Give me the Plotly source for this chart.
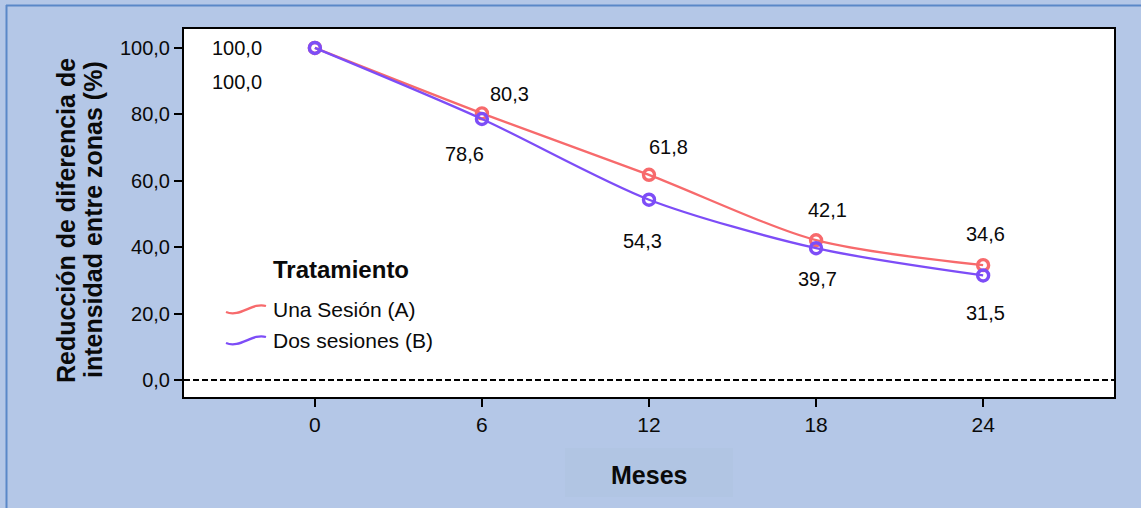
import plotly.graph_objects as go

meses = [0, 6, 12, 18, 24]
una_sesion = [100.0, 80.3, 61.8, 42.1, 34.6]
dos_sesiones = [100.0, 78.6, 54.3, 39.7, 31.5]
series_names = ["Una Sesión (A)", "Dos sesiones (B)"]
y_ticks = [0, 20, 40, 60, 80, 100]
y_tick_labels = ["0,0", "20,0", "40,0", "60,0", "80,0", "100,0"]

RED = "#F76A6C"
PURPLE = "#7D4DF7"
FONT = "Liberation Sans, Arial, sans-serif"
TXT = "#0A0A0A"

W, H = 1141, 508
L, R, T, B = 184, 27, 29, 111
PW, PH = W - L - R, H - T - B


def px(x):
    return (x - L) / PW


def py(y):
    return (H - B - y) / PH


fig = go.Figure()
for vals, name, col in [(una_sesion, series_names[0], RED), (dos_sesiones, series_names[1], PURPLE)]:
    fig.add_trace(go.Scatter(
        x=meses, y=vals, name=name, mode="lines+markers",
        line=dict(color=col, width=2.3, shape="spline", smoothing=0.8),
        marker=dict(symbol="circle-open", size=11, color=col, line=dict(width=3.4, color=col)),
        showlegend=False, cliponaxis=False, hoverinfo="skip",
    ))

# data labels
offs_a = [(-78, 0), (28, 19), (19, 28), (11, 30), (2, 31)]
offs_b = [(-78, -34), (-17, -35), (-7, -41), (1, -31), (2, -38)]
annotations = []
for vals, offs in [(una_sesion, offs_a), (dos_sesiones, offs_b)]:
    for xv, yv, (dx, dy) in zip(meses, vals, offs):
        annotations.append(dict(
            x=xv, y=yv, xref="x", yref="y", text=f"{yv:.1f}".replace(".", ","),
            showarrow=False, xshift=dx, yshift=dy, xanchor="center", yanchor="middle",
            font=dict(family=FONT, size=20, color=TXT),
        ))


def paper_text(x, y, text, size, anchor="center", angle=0):
    return dict(x=px(x), y=py(y), xref="paper", yref="paper", text=text, textangle=angle,
                xanchor=anchor, yanchor="middle", showarrow=False,
                font=dict(family=FONT, size=size, color=TXT))


# legend (manual)
annotations.append(paper_text(341, 269, "<b>Tratamiento</b>", 24))
shapes = []
for i, (name, col) in enumerate([(series_names[0], RED), (series_names[1], PURPLE)]):
    yc = 308 + i * 31
    path = (f"M {px(226)},{py(yc + 4)} C {px(240)},{py(yc + 10)} {px(252)},{py(yc - 6)} {px(266)},{py(yc - 2)}")
    shapes.append(dict(type="path", path=path, xref="paper", yref="paper",
                       line=dict(color=col, width=2.3)))
    annotations.append(paper_text(271, yc + 1, name, 21, anchor="left"))

# x-axis title with box
shapes.append(dict(type="rect", xref="paper", yref="paper", x0=px(565), x1=px(733), y0=py(497), y1=py(448),
                   fillcolor="#B1C5E3", line=dict(width=0), layer="below"))
annotations.append(paper_text(649, 475, "<b>Meses</b>", 25))
# y-axis title (two lines)
for xc, line in [(66, "Reducción de diferencia de"), (93, "intensidad entre zonas (%)")]:
    annotations.append(paper_text(xc, 220, f"<b>{line}</b>", 25, angle=-90))

# zero dashed line
shapes.append(dict(type="line", xref="paper", yref="y", x0=0, x1=1, y0=0, y1=0,
                   line=dict(color="#000000", width=2, dash="6px,3px")))
# outer frame lines (top and left)
shapes.append(dict(type="line", xref="paper", yref="paper", x0=px(6), x1=px(1141), y0=py(5.5), y1=py(5.5),
                   line=dict(color="#5A88C8", width=2)))
shapes.append(dict(type="line", xref="paper", yref="paper", x0=px(6.5), x1=px(6.5), y0=py(5), y1=py(508),
                   line=dict(color="#5A88C8", width=2)))

fig.update_layout(
    width=W, height=H,
    margin=dict(l=L, r=R, t=T, b=B),
    paper_bgcolor="#B4C7E7", plot_bgcolor="#FFFFFF",
    annotations=annotations, shapes=shapes,
    showlegend=False, hovermode=False,
    xaxis=dict(range=[-4.7, 28.7], tickvals=meses, ticktext=[str(m) for m in meses],
               ticks="outside", ticklen=8, tickwidth=2, tickcolor="#000000",
               showgrid=False, zeroline=False, showline=True, linecolor="#000000", linewidth=2,
               mirror=True, tickfont=dict(family=FONT, size=21, color=TXT)),
    yaxis=dict(range=[-5.1, 105.7], tickvals=y_ticks, ticktext=y_tick_labels,
               ticks="outside", ticklen=8, tickwidth=2, tickcolor="#000000",
               showgrid=False, zeroline=False, showline=True, linecolor="#000000", linewidth=2,
               mirror=True, tickfont=dict(family=FONT, size=20, color=TXT)),
)

fig.write_html("out.html", config={"displayModeBar": False},
               post_script="document.body.style.margin='0';")
